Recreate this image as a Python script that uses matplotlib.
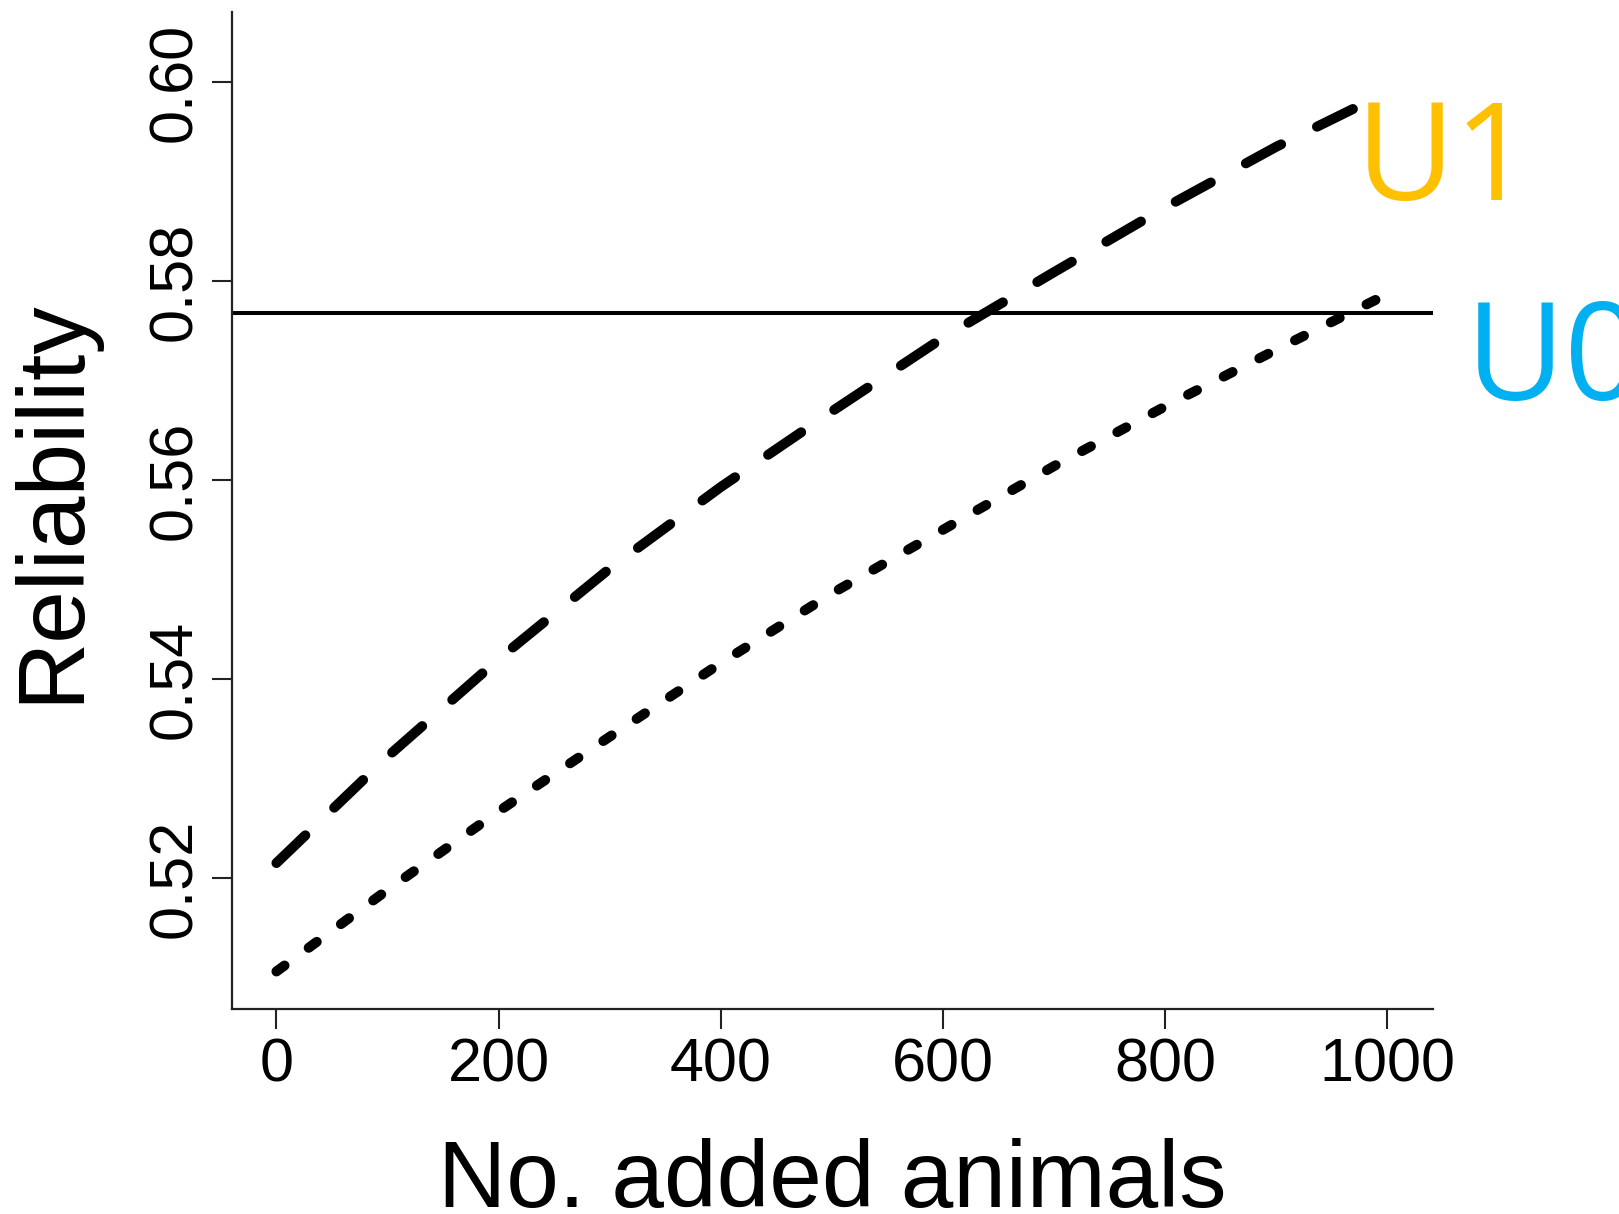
import numpy as np
import matplotlib.pyplot as plt

# number of animals added to the reference population
added = [0, 100, 200, 300, 400, 500, 600, 700, 800, 900, 1000]
# reliability curves
rel_dashed = [0.5215, 0.5322, 0.5420, 0.5511, 0.5593, 0.5669,
              0.5743, 0.5809, 0.5874, 0.5935, 0.5990]
rel_dotted = [0.5106, 0.5188, 0.5267, 0.5342, 0.5416, 0.5486,
              0.5550, 0.5614, 0.5674, 0.5731, 0.5787]
# current reliability (horizontal reference)
rel_current = 0.5768

xticks = [0, 200, 400, 600, 800, 1000]
yticks = [0.52, 0.54, 0.56, 0.58, 0.60]

tag_labels = ["U1", "U0"]
tag_colors = ["#FFC000", "#00B0F0"]

plt.rcParams["font.family"] = ["Liberation Sans", "DejaVu Sans"]

fig = plt.figure(figsize=(16.19, 12.14), dpi=100)
ax = fig.add_axes([0.1433, 0.1689, 0.8851 - 0.1433, 0.9901 - 0.1689])

lw = 7.2
ax.plot(added, rel_dashed, color="black", lw=lw, dashes=(4, 4),
        dash_capstyle="round", solid_capstyle="round")
ax.plot(added, rel_dotted, color="black", lw=lw, dashes=(1, 3),
        dash_capstyle="round", solid_capstyle="round")
ax.axhline(rel_current, color="black", lw=2.9)

ax.set_xlim(-40, 1041)
ax.set_ylim(0.50683, 0.60704)

ax.set_xticks(xticks)
ax.set_xticklabels([str(v) for v in xticks])
ax.set_yticks(yticks)
ax.set_yticklabels([f"{v:.2f}" for v in yticks], rotation=90, va="center")

for side in ["top", "right"]:
    ax.spines[side].set_visible(False)
for side in ["left", "bottom"]:
    ax.spines[side].set_linewidth(1.6)
    ax.spines[side].set_color("#222222")

ax.tick_params(axis="both", length=14.4, width=1.5, color="#222222",
               labelsize=44, pad=6)

ax.set_xlabel("No. added animals", fontsize=68, va="baseline")
ax.xaxis.set_label_coords(0.5, -0.1986)
ax.set_ylabel("Reliability", fontsize=68, va="baseline")
ax.yaxis.set_label_coords(-0.129, 0.5095)

# coloured tags next to the curves
fig.text(0.8376, 0.8353, tag_labels[0], color=tag_colors[0], fontsize=98,
         family="Open Sans", va="baseline", ha="left")
fig.text(0.9055, 0.6705, tag_labels[1], color=tag_colors[1], fontsize=98,
         family="Open Sans", va="baseline", ha="left")

fig.savefig("out.png", dpi=100)
